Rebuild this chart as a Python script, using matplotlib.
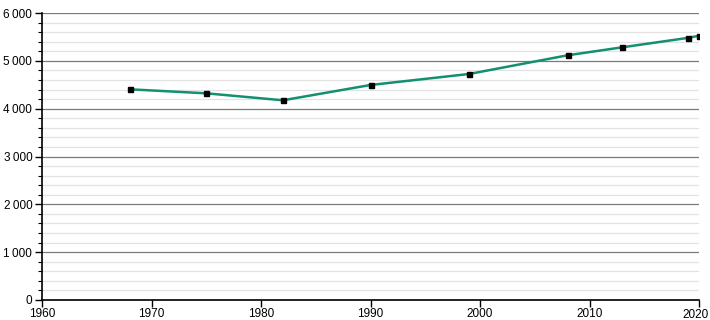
import matplotlib
matplotlib.use("Agg")
import matplotlib.pyplot as plt
from matplotlib.ticker import MultipleLocator, FuncFormatter

# Population par année
years = [1968, 1975, 1982, 1990, 1999, 2008, 2013, 2019, 2020]
population = [4405, 4321, 4175, 4495, 4725, 5116, 5283, 5480, 5525]
xticks = [1960, 1970, 1980, 1990, 2000, 2010, 2020]

plt.rcParams['font.family'] = ['Liberation Sans', 'DejaVu Sans']

fig = plt.figure(figsize=(7.1, 3.2), dpi=100)
ax = fig.add_axes([42 / 710, 20 / 320, 657 / 710, 287 / 320])

ax.plot(years, population, color='#12906f', linewidth=1.8, zorder=3)
ax.plot(years, population, linestyle='none', marker='s', markersize=3.6,
        color='black', zorder=4)

ax.set_xlim(1960, 2020)
ax.set_ylim(0, 6000)
# le dernier label est posé à part pour rester dans l'image
ax.set_xticks(xticks, [str(x) for x in xticks[:-1]] + [''])
ax.annotate(str(xticks[-1]), xy=(xticks[-1], 0), xycoords=('data', 'axes fraction'),
            xytext=(-2.5, -6.5), textcoords='offset points', ha='center', va='top',
            fontsize=8.5)
ax.yaxis.set_major_locator(MultipleLocator(1000))
ax.yaxis.set_minor_locator(MultipleLocator(200))
ax.yaxis.set_major_formatter(FuncFormatter(lambda v, p: f"{int(v):,}".replace(',', '\u2009')))

ax.grid(True, which='major', axis='y', color='#7a7a7a', linewidth=0.9)
ax.grid(True, which='minor', axis='y', color='#e2e2e2', linewidth=0.9)
ax.set_axisbelow(True)

for s in ['top', 'right']:
    ax.spines[s].set_visible(False)
for s in ['left', 'bottom']:
    ax.spines[s].set_color('black')
    ax.spines[s].set_linewidth(1.2)

ax.tick_params(axis='both', which='major', length=5, width=1, labelsize=8.5, pad=2)
ax.tick_params(axis='x', which='major', pad=1)
ax.tick_params(axis='y', which='minor', length=3, width=0.8)

fig.savefig('out.png', dpi=100)
